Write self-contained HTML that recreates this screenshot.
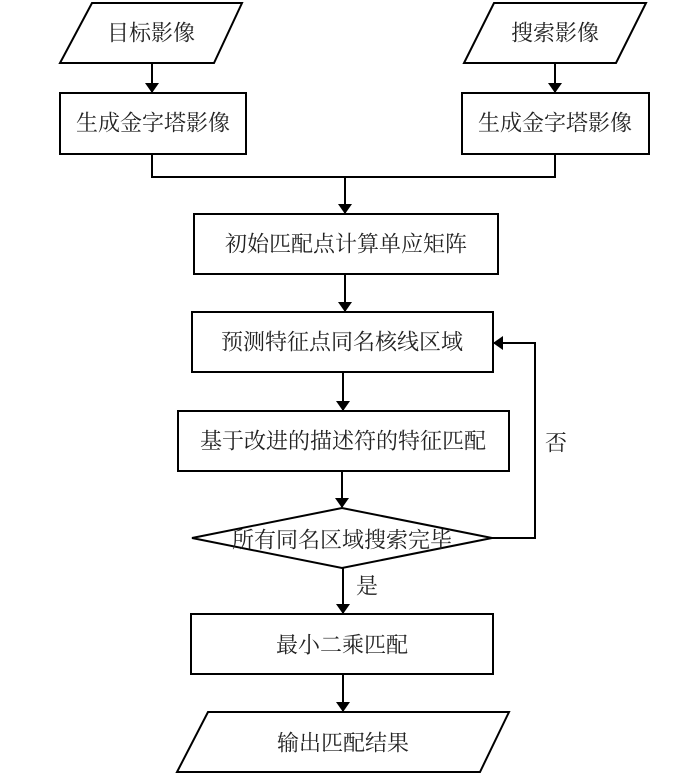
<!DOCTYPE html>
<html><head><meta charset="utf-8"><style>
html,body{margin:0;padding:0;background:#fff;}
svg text{font-family:"Liberation Serif","Noto Serif CJK SC","Noto Sans CJK SC",serif;font-size:22px;fill:#222;text-anchor:middle;dominant-baseline:central;}
</style></head><body>
<svg width="700" height="779" viewBox="0 0 700 779" xmlns="http://www.w3.org/2000/svg">
<defs><marker id="a" markerWidth="10" markerHeight="14" refX="9" refY="7" orient="auto" markerUnits="userSpaceOnUse"><path d="M0,0 L10,7 L0,14 z" fill="#000"/></marker></defs>
<g fill="none" stroke="#000" stroke-width="2">
<polygon points="92,3 242,3 214,63 60,63"/>
<polygon points="494,3 646,3 616,63 464,63"/>
<rect x="60" y="93" width="186" height="61"/>
<rect x="462" y="93" width="187" height="61"/>
<rect x="194" y="214" width="304" height="60"/>
<rect x="192" y="312" width="301" height="60"/>
<rect x="178" y="411" width="331" height="60"/>
<polygon points="192,538 342,508 492,538 342,568"/>
<rect x="191" y="614" width="302" height="60"/>
<polygon points="208,712 509,712 480,772 177,772"/>
<line x1="152" y1="63" x2="152" y2="92" marker-end="url(#a)"/>
<line x1="555" y1="63" x2="555" y2="92" marker-end="url(#a)"/>
<polyline points="152,154 152,177 555,177 555,154"/>
<line x1="345" y1="177" x2="345" y2="213" marker-end="url(#a)"/>
<line x1="345" y1="274" x2="345" y2="311" marker-end="url(#a)"/>
<line x1="343" y1="372" x2="343" y2="410" marker-end="url(#a)"/>
<line x1="342" y1="471" x2="342" y2="507" marker-end="url(#a)"/>
<polyline points="492,538 535,538 535,343 494,343" marker-end="url(#a)"/>
<line x1="343" y1="568" x2="343" y2="613" marker-end="url(#a)"/>
<line x1="343" y1="674" x2="343" y2="711" marker-end="url(#a)"/>
</g>
<text x="151" y="33">目标影像</text>
<text x="555" y="33">搜索影像</text>
<text x="153" y="123">生成金字塔影像</text>
<text x="555" y="123">生成金字塔影像</text>
<text x="346" y="244">初始匹配点计算单应矩阵</text>
<text x="342" y="342">预测特征点同名核线区域</text>
<text x="343" y="441">基于改进的描述符的特征匹配</text>
<text x="342" y="540">所有同名区域搜索完毕</text>
<text x="556" y="443">否</text>
<text x="367" y="586">是</text>
<text x="342" y="645">最小二乘匹配</text>
<text x="343" y="743">输出匹配结果</text>
</svg>
</body></html>
